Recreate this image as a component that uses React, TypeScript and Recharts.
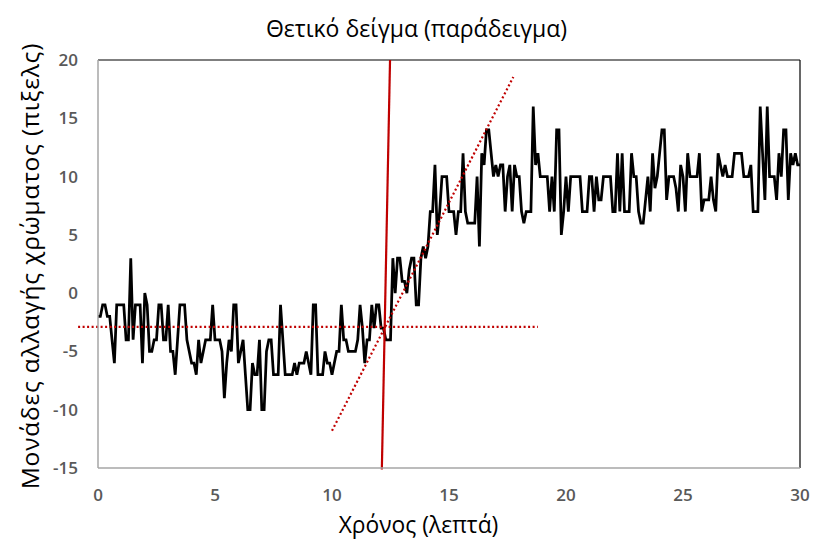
import React from 'react';
import { LineChart, Line, XAxis, YAxis, ReferenceLine } from 'recharts';

const title = 'Θετικό δείγμα (παράδειγμα)';
const xTitle = 'Χρόνος (λεπτά)';
const yTitle = 'Μονάδες αλλαγής χρώματος (πιξελς)';

const xTicks = [0, 5, 10, 15, 20, 25, 30];
const yTicks = [-15, -10, -5, 0, 5, 10, 15, 20];

const sampleStep = 0.1; // minutes between samples

const colourChange = [
  -2, -2, -1, -1, -2, -2, -4, -6, -1, -1,
  -1, -1, -4, -4, 3, -4, -1, -1, -1, -6,
  0, -1, -5, -5, -4, -4, -1, -1, -4, -4,
  -1, -5, -5, -7, -4, -1, -1, -1, -4, -5,
  -6, -6, -7, -4, -6, -5, -4, -4, -4, -1,
  -4, -4, -4, -5, -9, -6, -4, -5, -1, -1,
  -6, -5, -4, -7, -10, -10, -6, -7, -7, -4,
  -10, -10, -5, -4, -4, -7, -7, -7, -1, -4,
  -7, -7, -7, -7, -6, -7, -6, -6, -6, -5,
  -6, -7, -1, -1, -7, -7, -7, -5, -6, -6,
  -7, -6, -5, -5, -1, -4, -4, -5, -5, -5,
  -5, -4, -1, -3, -6, -4, -4, -1, -3, -1,
  -1, -3, -3, -4, -4, -4, 3, 0, 3, 3,
  1, 1, 0, 2, 3, 3, -1, -1, 3, 4,
  3, 4, 7, 7, 11, 5, 7, 10, 10, 10,
  7, 7, 7, 5, 7, 7, 12, 7, 6, 6,
  6, 6, 10, 4, 12, 11, 14, 14, 12, 10,
  11, 10, 11, 11, 7, 10, 11, 7, 11, 10,
  10, 7, 6, 7, 7, 7, 16, 11, 12, 10,
  10, 10, 10, 7, 10, 7, 14, 14, 5, 7,
  10, 7, 10, 10, 10, 10, 10, 7, 7, 7,
  10, 10, 7, 10, 8, 8, 10, 10, 10, 10,
  7, 7, 12, 7, 12, 7, 7, 7, 12, 10,
  10, 7, 6, 6, 8, 10, 7, 12, 9, 10,
  12, 14, 14, 8, 10, 10, 10, 9, 7, 11,
  10, 7, 12, 10, 10, 10, 10, 12, 7, 8,
  8, 8, 10, 8, 7, 12, 11, 10, 11, 10,
  10, 10, 12, 12, 12, 12, 10, 10, 10, 11,
  7, 7, 7, 16, 12, 8, 16, 10, 10, 10,
  8, 12, 10, 14, 14, 8, 12, 11, 12, 11,
  11,
];

// Red guide lines (start/end points in data units)
const baselineLevel = -2.9;
const baselineStart = -0.85;
const baselineEnd = 18.8;
const slopeLine = [{ x: 10.0, y: -11.8 }, { x: 17.75, y: 18.55 }];
const onsetLine = [{ x: 12.13, y: -15.13 }, { x: 12.48, y: 20 }];

const data = colourChange.map((v, i) => ({ t: Math.round(i * sampleStep * 10) / 10, v }));

const RED = '#C00000';
const FONT = '"Open Sans", "Noto Sans", sans-serif';
const tickStyle = { fill: '#595959', fontSize: 17, fontWeight: 600, fontFamily: FONT };

export default function App() {
  return (
    <div style={{ position: 'absolute', left: 0, top: 0, width: 813, height: 545, background: '#fff' }}>
      <LineChart
        width={813}
        height={545}
        data={data}
        margin={{ top: 60, right: 13, bottom: 37, left: 38 }}
      >
        <XAxis
          type="number"
          dataKey="t"
          domain={[0, 30]}
          ticks={xTicks}
          interval={0}
          tickLine={false}
          tickSize={0}
          tickMargin={21}
          axisLine={{ stroke: '#a6a6a6', strokeWidth: 1.5 }}
          tick={tickStyle}
          height={40}
        />
        <YAxis
          type="number"
          domain={[-15, 20]}
          ticks={yTicks}
          interval={0}
          tickLine={false}
          tickSize={0}
          tickMargin={20}
          axisLine={{ stroke: '#a6a6a6', strokeWidth: 1.5 }}
          tick={tickStyle}
          width={60}
        />
        <ReferenceLine y={20} stroke="#000" strokeWidth={1.2} />
        <ReferenceLine x={30} stroke="#000" strokeWidth={1.2} />
        <Line
          type="linear"
          dataKey="v"
          stroke="#000"
          strokeWidth={2.75}
          dot={false}
          isAnimationActive={false}
        />
        <ReferenceLine
          segment={[{ x: baselineStart, y: baselineLevel }, { x: baselineEnd, y: baselineLevel }]}
          stroke={RED}
          strokeWidth={2.2}
          strokeDasharray="2 2.5"
          ifOverflow="visible"
        />
        <ReferenceLine
          segment={slopeLine}
          stroke={RED}
          strokeWidth={2.2}
          strokeDasharray="2 2.5"
          ifOverflow="visible"
        />
        <ReferenceLine
          segment={onsetLine}
          stroke={RED}
          strokeWidth={2.2}
          ifOverflow="visible"
        />
      </LineChart>
      <div style={{ position: 'absolute', left: 0, width: 813, top: 13, textAlign: 'center', fontFamily: FONT, fontSize: 23, color: '#000', lineHeight: '30px', paddingLeft: 10 }}>
        {title}
      </div>
      <div style={{ position: 'absolute', left: 0, width: 813, top: 509, textAlign: 'center', fontFamily: FONT, fontSize: 22.8, color: '#000', lineHeight: '32px', paddingLeft: 12 }}>
        {xTitle}
      </div>
      <div style={{ position: 'absolute', left: 30, top: 266, width: 0, height: 0 }}>
        <div style={{ position: 'absolute', left: 0, top: 0, transform: 'translate(-50%, -50%) rotate(-90deg)', whiteSpace: 'nowrap', fontFamily: FONT, fontSize: 24.5, letterSpacing: 0.8, color: '#000', lineHeight: '30px' }}>
          {yTitle}
        </div>
      </div>
    </div>
  );
}
